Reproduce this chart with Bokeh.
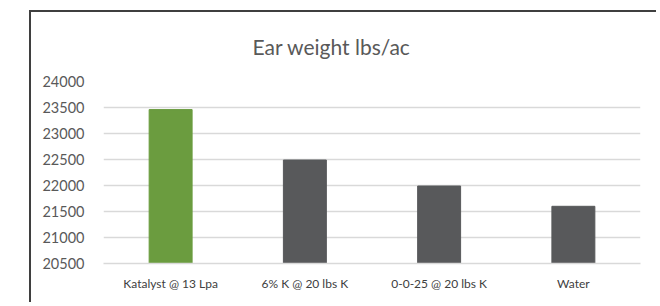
from bokeh.plotting import figure
from bokeh.models import FixedTicker, Range1d, ColumnDataSource
from bokeh.layouts import column
from bokeh.embed import file_html
from bokeh.resources import INLINE

# ---- data ----
categories = ["Katalyst @ 13 Lpa", "6% K @ 20 lbs K", "0-0-25 @ 20 lbs K", "Water"]
ear_weight = [23460, 22490, 21990, 21600]
bar_colors = ["#6B9C3F", "#58595B", "#58595B", "#58595B"]
y_ticks = [20500, 21000, 21500, 22000, 22500, 23000, 23500, 24000]
title_text = "Ear weight lbs/ac"

TEXT = "#595959"
GRID = "#D9D9D9"

src = ColumnDataSource(dict(cat=categories, val=ear_weight, color=bar_colors,
                            base=[y_ticks[0]] * len(categories)))

p = figure(x_range=categories, y_range=Range1d(y_ticks[0], y_ticks[-1]),
           width=625, height=290, output_backend="svg", toolbar_location=None,
           min_border_left=72, min_border_right=16, min_border_top=69, min_border_bottom=39)

p.vbar(x="cat", top="val", bottom="base", width=0.32, color="color", source=src)

p.title.text = title_text
p.title.align = "left"
p.title.vertical_align = "top"
p.title.offset = 149
p.title.text_font = "Lato"
p.title.text_font_size = "21px"
p.title.text_font_style = "normal"
p.title.text_color = TEXT
p.title.standoff = 42

p.outline_line_color = None
p.background_fill_color = "white"
p.border_fill_color = "white"

p.xgrid.grid_line_color = None
p.ygrid.grid_line_color = GRID
p.ygrid.grid_line_width = 1.5

p.yaxis.ticker = FixedTicker(ticks=y_ticks)
p.yaxis.axis_line_color = None
p.yaxis.major_tick_line_color = None
p.yaxis.minor_tick_line_color = None
p.yaxis.major_label_standoff = 13
p.yaxis.major_label_text_font = "Lato"
p.yaxis.major_label_text_font_size = "14.5px"
p.yaxis.major_label_text_color = TEXT

p.xaxis.axis_line_color = GRID
p.xaxis.axis_line_width = 1.5
p.xaxis.major_tick_line_color = None
p.xaxis.minor_tick_line_color = None
p.xaxis.major_label_standoff = 6
p.xaxis.major_label_text_font = "Lato"
p.xaxis.major_label_text_font_size = "12px"
p.xaxis.major_label_text_color = "#404040"

lay = column(p, margin=(10, 0, 0, 29),
             styles={"border-left": "2px solid #3F3F3F", "border-top": "2px solid #3F3F3F"})

open("out.html", "w").write(file_html(lay, INLINE))
